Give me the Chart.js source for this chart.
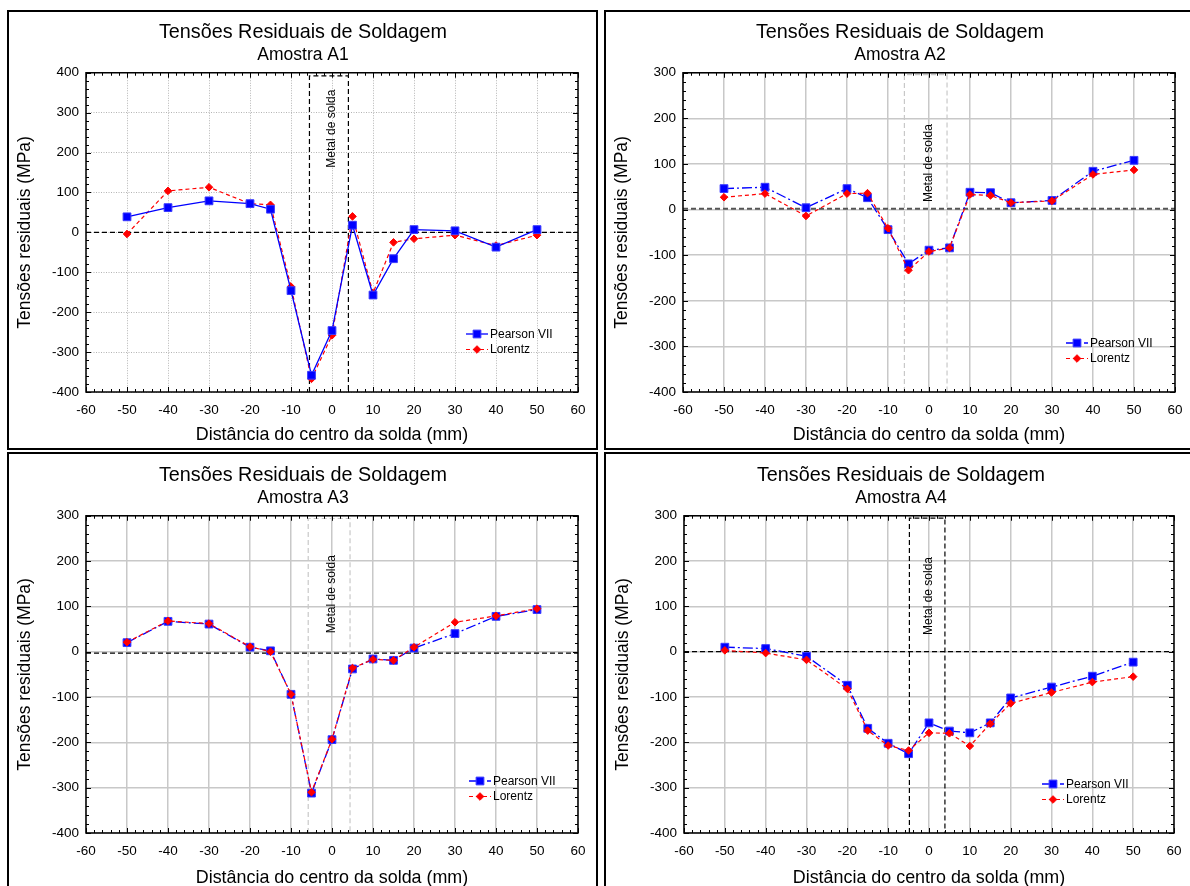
<!DOCTYPE html>
<html>
<head>
<meta charset="utf-8">
<script src="https://cdn.jsdelivr.net/npm/chart.js@4.4.1/dist/chart.umd.min.js"></script>
<style>
    html, body { margin: 0; padding: 0; background: #fff; }
    body { width: 1190px; height: 886px; position: relative; overflow: hidden; }
    .panel { position: absolute; border: 2px solid #000; box-sizing: border-box; }
    canvas { position: absolute; }
</style>
</head>
<body>
<div class="panel" style="left:7px;top:10px;width:591px;height:440px"></div>
<div class="panel" style="left:604px;top:10px;width:600px;height:440px"></div>
<div class="panel" style="left:7px;top:452px;width:591px;height:450px"></div>
<div class="panel" style="left:604px;top:452px;width:600px;height:450px"></div>
<canvas id="chartA1" width="588" height="436" style="left:9px;top:12px"></canvas>
<canvas id="chartA2" width="588" height="436" style="left:606px;top:12px"></canvas>
<canvas id="chartA3" width="588" height="436" style="left:9px;top:455px"></canvas>
<canvas id="chartA4" width="588" height="436" style="left:607px;top:455px"></canvas>
<script>
// distance from weld centre (mm)
var positions = [-50, -40, -30, -20, -15, -10, -5, 0, 5, 10, 15, 20, 30, 40, 50];

var pearsonA1 = [39, 62, 79, 72, 58, -146, -358, -246, 18, -157, -66, 7, 4, -37, 7];
var lorentzA1 = [-4, 104, 113, 72, 69, -136, -367, -258, 40, -152, -25, -16, -7, -33, -7];

var pearsonA2 = [46, 49, 4, 46, 26, -44, -119, -89, -84, 38, 37, 15, 20, 84, 108];
var lorentzA2 = [27, 35, -14, 35, 36, -41, -133, -92, -84, 33, 31, 15, 19, 77, 87];

var pearsonA3 = [20, 67, 61, 10, 2, -94, -312, -194, -38, -16, -19, 8, 40, 78, 93];
var lorentzA3 = [21, 68, 62, 11, 0, -94, -310, -193, -36, -17, -19, 10, 65, 79, 95];

var pearsonA4 = [10, 7, -10, -74, -169, -202, -225, -157, -175, -179, -157, -102, -78, -54, -23];
var lorentzA4 = [3, -3, -18, -82, -174, -207, -218, -179, -180, -208, -159, -114, -90, -67, -55];

// weld metal zone: [x start, x end, top]
var weldZoneA1 = [-5.5, 4, 392];
var weldZoneA2 = [-6, 4.4, 296];
var weldZoneA3 = [-5.8, 4.4, 294];
var weldZoneA4 = [-4.8, 3.9, 295];

// reference line level and label height (MPa)
var zeroLevels = [0, 2, -3, 0];
var labelLevels = [260, 102, 127, 123];

var FONT = '"Liberation Sans", Arial, sans-serif';

var weldMarks = {
    id: 'weldMarks',
    beforeDatasetsDraw: function (chart, args, o) {
        var ctx = chart.ctx, a = chart.chartArea;
        var xs = chart.scales.x, ys = chart.scales.y;
        ctx.save();
        ctx.beginPath();
        ctx.rect(a.left, a.top, a.right - a.left, a.bottom - a.top);
        ctx.clip();

        var yz = ys.getPixelForValue(o.zero);
        ctx.strokeStyle = o.zeroColor;
        ctx.lineWidth = o.zeroWidth;
        ctx.setLineDash([5, 3]);
        ctx.beginPath();
        ctx.moveTo(a.left, yz);
        ctx.lineTo(a.right, yz);
        ctx.stroke();

        var x0 = xs.getPixelForValue(o.weld[0]);
        var x1 = xs.getPixelForValue(o.weld[1]);
        var yt = ys.getPixelForValue(o.weld[2]);
        ctx.strokeStyle = o.weldColor;
        ctx.lineWidth = 1.2;
        ctx.beginPath();
        ctx.moveTo(x0, a.bottom);
        ctx.lineTo(x0, yt);
        ctx.lineTo(x1, yt);
        ctx.lineTo(x1, a.bottom);
        ctx.stroke();

        ctx.setLineDash([]);
        ctx.translate(xs.getPixelForValue(0), ys.getPixelForValue(o.labelY));
        ctx.rotate(-Math.PI / 2);
        ctx.fillStyle = '#000';
        ctx.font = '12px ' + FONT;
        ctx.textAlign = 'center';
        ctx.textBaseline = 'middle';
        ctx.fillText('Metal de solda', 0, 0);
        ctx.restore();
    },
    afterDraw: function (chart, args, o) {
        var ctx = chart.ctx, a = chart.chartArea;
        var xs = chart.scales.x, ys = chart.scales.y;
        var i, p, len;
        ctx.save();
        ctx.strokeStyle = '#000';
        ctx.lineWidth = 1;
        ctx.setLineDash([]);
        ctx.beginPath();
        for (i = xs.min; i <= xs.max; i += 2) {
            p = Math.round(xs.getPixelForValue(i)) + 0.5;
            len = i % 10 === 0 ? 5 : 3;
            ctx.moveTo(p, a.bottom); ctx.lineTo(p, a.bottom - len);
            ctx.moveTo(p, a.top); ctx.lineTo(p, a.top + len);
        }
        for (i = ys.min; i <= ys.max; i += 20) {
            p = Math.round(ys.getPixelForValue(i)) + 0.5;
            len = i % 100 === 0 ? 5 : 3;
            ctx.moveTo(a.left, p); ctx.lineTo(a.left + len, p);
            ctx.moveTo(a.right, p); ctx.lineTo(a.right - len, p);
        }
        ctx.stroke();
        ctx.lineWidth = 1.5;
        ctx.strokeRect(a.left, a.top, a.right - a.left, a.bottom - a.top);

        // legend: line + marker + label
        var lx = a.right - o.legend[0], ly = a.bottom - o.legend[1];
        ['Pearson VII', 'Lorentz'].forEach(function (name, k) {
            var ds = chart.data.datasets.filter(function (d) { return d.label === name; })[0];
            var y = ly + k * 15.5;
            ctx.strokeStyle = ds.borderColor;
            ctx.lineWidth = ds.borderWidth;
            ctx.setLineDash(ds.borderDash || []);
            ctx.beginPath();
            ctx.moveTo(lx - 11, y);
            ctx.lineTo(lx + 11, y);
            ctx.stroke();
            ctx.setLineDash([]);
            ctx.fillStyle = ds.pointBackgroundColor;
            ctx.strokeStyle = ds.pointBorderColor;
            ctx.lineWidth = 1;
            Chart.helpers.drawPoint(ctx, { pointStyle: ds.pointStyle, radius: ds.pointRadius, borderWidth: 1, rotation: 0 }, lx, y);
            ctx.fillStyle = '#000';
            ctx.font = '12px ' + FONT;
            ctx.textAlign = 'left';
            ctx.textBaseline = 'middle';
            ctx.fillText(name, lx + 13, y + 0.5);
        });
        ctx.restore();
    }
};

function toPoints(values) {
    return positions.map(function (x, i) { return { x: x, y: values[i] }; });
}

function makeChart(p) {
    var gridOpts = p.dotted
        ? { color: '#b4b4b4', lineWidth: 1, drawTicks: false }
        : { color: '#c8c8c8', lineWidth: 1.5, drawTicks: false };
    var borderOpts = { display: false, dash: p.dotted ? [1, 1.5] : [] };

    return new Chart(document.getElementById(p.id), {
        type: 'scatter',
        data: {
            datasets: [
                {
                    label: 'Pearson VII',
                    data: toPoints(p.pearson),
                    showLine: true,
                    borderColor: '#0000ff',
                    borderWidth: 1.3,
                    borderDash: p.pearsonDash,
                    pointStyle: 'rect',
                    pointRadius: 5.5,
                    pointBackgroundColor: '#0000ff',
                    pointBorderColor: '#3a3aff',
                    pointBorderWidth: 1,
                    order: p.lorentzTop ? 1 : 0
                },
                {
                    label: 'Lorentz',
                    data: toPoints(p.lorentz),
                    showLine: true,
                    borderColor: '#ff0000',
                    borderWidth: 1.2,
                    borderDash: [4, 3],
                    pointStyle: 'rectRot',
                    pointRadius: 3.8,
                    pointBackgroundColor: '#ff0000',
                    pointBorderColor: '#ff0000',
                    pointBorderWidth: 1,
                    order: p.lorentzTop ? 0 : 1
                }
            ]
        },
        options: {
            responsive: false,
            animation: false,
            events: [],
            layout: { padding: { left: p.padRight, right: p.padRight, top: 0, bottom: 0 } },
            plugins: {
                legend: { display: false },
                tooltip: { enabled: false },
                title: {
                    display: true,
                    text: 'Tensões Residuais de Soldagem',
                    color: '#000',
                    font: { family: FONT, size: 19.8, weight: 'normal' },
                    padding: { top: 9, bottom: 0 }
                },
                subtitle: {
                    display: true,
                    text: p.sub,
                    color: '#000',
                    font: { family: FONT, size: 17.5, weight: 'normal' },
                    padding: { top: 0, bottom: 7 }
                },
                weldMarks: {
                    zero: p.zero,
                    zeroColor: p.zeroColor,
                    zeroWidth: p.zeroWidth,
                    weld: p.weld,
                    weldColor: p.weldColor,
                    labelY: p.labelY,
                    legend: p.legend
                }
            },
            scales: {
                x: {
                    type: 'linear',
                    min: -60,
                    max: 60,
                    afterFit: function (s) { s.height = p.axisH; },
                    ticks: {
                        stepSize: 10,
                        color: '#000',
                        padding: 10,
                        font: { family: FONT, size: 13.5 },
                        callback: function (v) { return String(v); }
                    },
                    grid: gridOpts,
                    border: borderOpts,
                    title: {
                        display: true,
                        text: 'Distância do centro da solda (mm)',
                        color: '#000',
                        font: { family: FONT, size: 17.9 },
                        padding: { top: 0, bottom: 2.5 }
                    }
                },
                y: {
                    min: p.yMin,
                    max: p.yMax,
                    afterFit: function (s) { s.width = 77 - p.padRight; },
                    ticks: {
                        stepSize: 100,
                        color: '#000',
                        padding: 7,
                        font: { family: FONT, size: 13.5 },
                        callback: function (v) { return String(v); }
                    },
                    grid: gridOpts,
                    border: borderOpts,
                    title: {
                        display: true,
                        text: 'Tensões residuais (MPa)',
                        color: '#000',
                        font: { family: FONT, size: 17.5 },
                        padding: { top: 5.5 - p.padRight, bottom: 0 }
                    }
                }
            }
        },
        plugins: [weldMarks]
    });
}

var dashDot = [10, 3, 2, 3];

makeChart({ id: 'chartA1', sub: 'Amostra A1', pearson: pearsonA1, lorentz: lorentzA1,
    yMin: -400, yMax: 400, zero: zeroLevels[0], zeroColor: '#000', zeroWidth: 1.2,
    weld: weldZoneA1, weldColor: '#000', labelY: labelLevels[0], dotted: true,
    pearsonDash: [], lorentzTop: false, legend: [101, 58], axisH: 56, padRight: 19 });

makeChart({ id: 'chartA2', sub: 'Amostra A2', pearson: pearsonA2, lorentz: lorentzA2,
    yMin: -400, yMax: 300, zero: zeroLevels[1], zeroColor: '#555', zeroWidth: 2,
    weld: weldZoneA2, weldColor: '#c8c8c8', labelY: labelLevels[1], dotted: false,
    pearsonDash: dashDot, lorentzTop: true, legend: [98, 49], axisH: 56, padRight: 19 });

makeChart({ id: 'chartA3', sub: 'Amostra A3', pearson: pearsonA3, lorentz: lorentzA3,
    yMin: -400, yMax: 300, zero: zeroLevels[2], zeroColor: '#000', zeroWidth: 1.2,
    weld: weldZoneA3, weldColor: '#c8c8c8', labelY: labelLevels[2], dotted: false,
    pearsonDash: dashDot, lorentzTop: true, legend: [98, 52], axisH: 58, padRight: 19 });

makeChart({ id: 'chartA4', sub: 'Amostra A4', pearson: pearsonA4, lorentz: lorentzA4,
    yMin: -400, yMax: 300, zero: zeroLevels[3], zeroColor: '#000', zeroWidth: 1.2,
    weld: weldZoneA4, weldColor: '#000', labelY: labelLevels[3], dotted: false,
    pearsonDash: dashDot, lorentzTop: true, legend: [121, 49], axisH: 58, padRight: 21 });
</script>
</body>
</html>
